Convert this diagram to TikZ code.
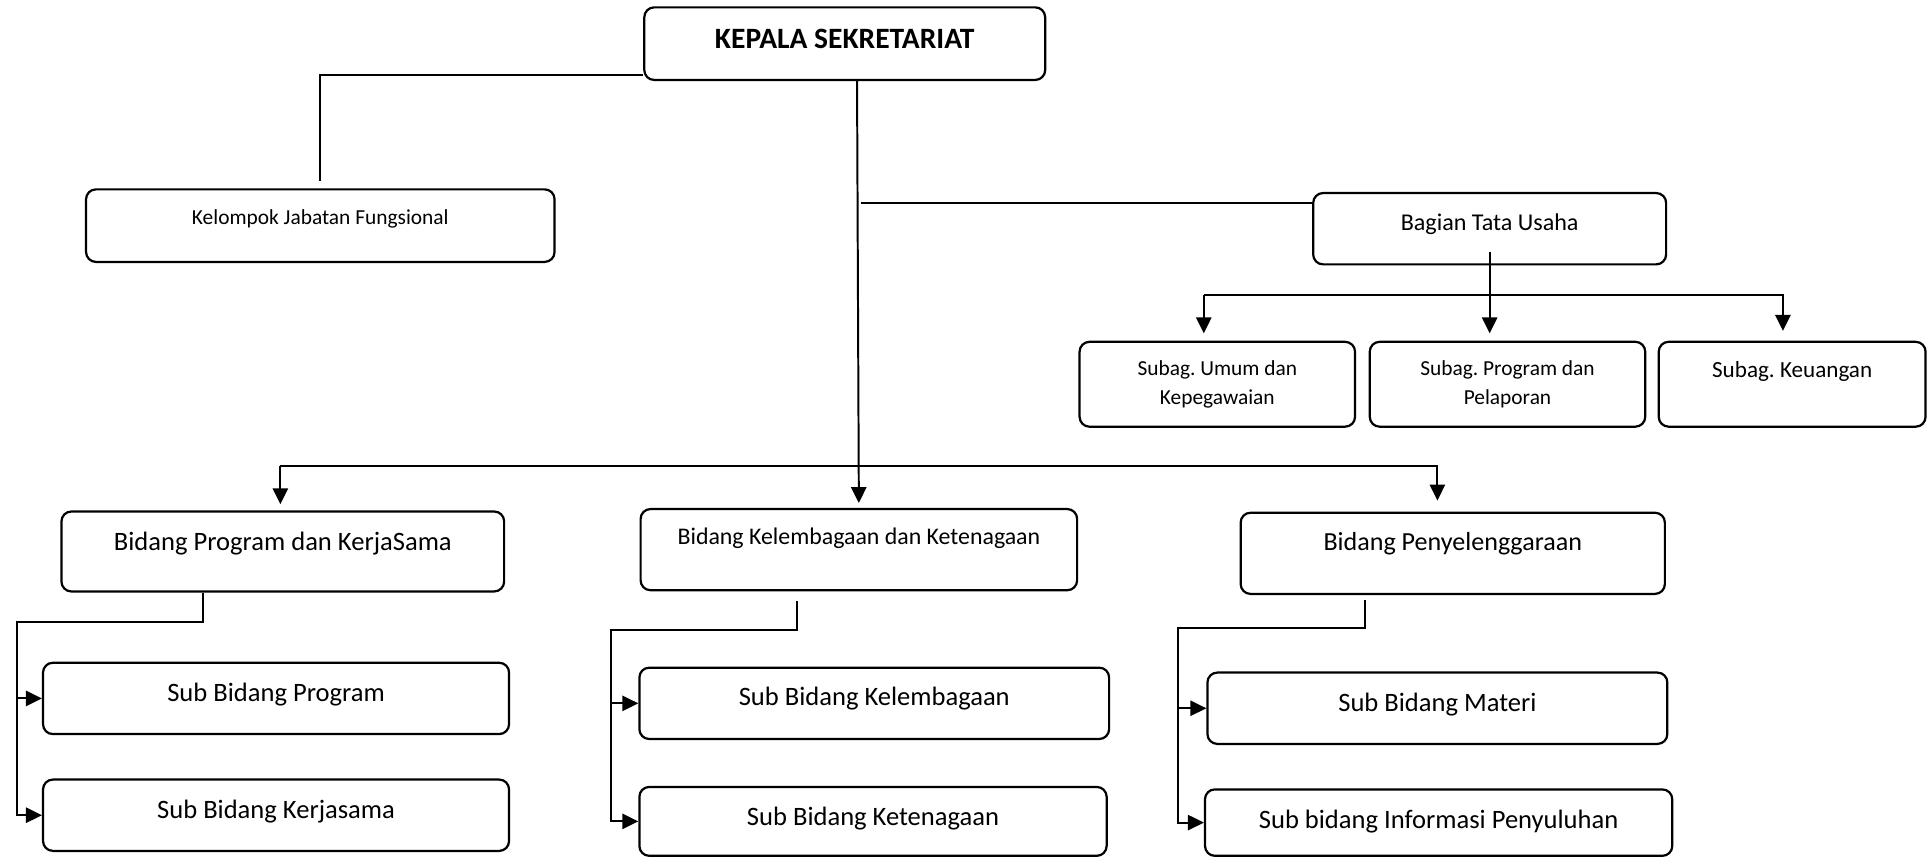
\documentclass[tikz,border=0pt]{standalone}
\usepackage{fontspec}
\setmainfont{Carlito}
\frenchspacing
\usetikzlibrary{arrows.meta}

\begin{document}
\begin{tikzpicture}[x=0.5pt, y=-0.5pt, line width=0.8pt,
  >={Triangle[length=6.5pt,width=6.2pt]},
  box/.style={draw, rounded corners=4pt, line width=0.9pt, inner sep=0pt, align=center},
  lift/.style={text height=7pt, text depth=#1},
  fbold/.style={font=\fontsize{12}{14}\selectfont\bfseries},
  flarge/.style={font=\fontsize{10.8}{13}\selectfont},
  fmid/.style={font=\fontsize{9.7}{12}\selectfont},
  fsmall/.style={font=\fontsize{8.7}{12}\selectfont}]
\useasboundingbox (0,0) rectangle (1568,697);

\node[box, fbold, minimum width=163pt, minimum height=29.5pt, lift=2.8pt] (kepala) at (687,35.5) {KEPALA SEKRETARIAT};
\node[box, fsmall, minimum width=190.5pt, minimum height=29.5pt, lift=8pt] (kelompok) at (260.5,183.5) {Kelompok Jabatan Fungsional};
\node[box, font=\fontsize{9.8}{12}\selectfont, minimum width=143.5pt, minimum height=29pt, lift=5.7pt] (bagian) at (1211.5,186) {Bagian Tata Usaha};

\node[box, fsmall, minimum width=112pt, minimum height=34.5pt] (su) at (990,312.5) {Subag. Umum dan\\Kepegawaian};
\node[box, fsmall, minimum width=112pt, minimum height=34.5pt] (spg) at (1226,312.5) {Subag. Program dan\\Pelaporan};
\node[box, font=\fontsize{9.4}{12}\selectfont, minimum width=108.5pt, minimum height=34.5pt, lift=12.5pt] (sk) at (1457.5,312.5) {Subag. Keuangan};

\node[box, flarge, minimum width=180pt, minimum height=32.5pt, lift=7.6pt] (bpk) at (230,448.5) {Bidang Program dan KerjaSama};
\node[box, fmid, minimum width=177.5pt, minimum height=33pt, lift=10.8pt] (bkel) at (698.5,447) {Bidang Kelembagaan dan Ketenagaan};
\node[box, font=\fontsize{10.6}{13}\selectfont, minimum width=172.5pt, minimum height=33pt, lift=9.2pt] (bpy) at (1181.5,450) {Bidang Penyelenggaraan};

\node[box, flarge, minimum width=189.5pt, minimum height=29pt, lift=4.1pt] (sbp) at (224.5,568) {Sub Bidang Program};
\node[box, flarge, minimum width=189.5pt, minimum height=29pt, lift=4.1pt] (sbk) at (224.5,663) {Sub Bidang Kerjasama};
\node[box, flarge, minimum width=191pt, minimum height=29pt, lift=5.1pt] (sbkel) at (711,572) {Sub Bidang Kelembagaan};
\node[box, flarge, minimum width=190pt, minimum height=28pt, lift=3.6pt] (sbket) at (710,668) {Sub Bidang Ketenagaan};
\node[box, flarge, minimum width=187pt, minimum height=29pt, lift=4.1pt] (sbm) at (1169,576) {Sub Bidang Materi};
\node[box, flarge, minimum width=190pt, minimum height=27pt, lift=2.6pt] (sbi) at (1170,669) {Sub bidang Informasi Penyuluhan};

% kepala
\draw[shorten >=3pt] ([yshift=2.5pt]kepala.south west) -| (kelompok.north);
\draw[->, shorten >=2pt] ([xshift=5pt]kepala.south) -- (bkel.north);
\coordinate (tu) at (700,165);
\draw (tu) -- (tu -| bagian.west);

% tata usaha
\draw[->, shorten >=3pt] ([yshift=5.5pt]bagian.south) -- (bagian.south |- spg.north);
\coordinate (sl) at (979,240);
\coordinate (sr) at (1450,240);
\draw[->, shorten >=3pt] (sl) -- (sl |- su.north);
\draw[->, shorten >=4pt] (sl) -- (sr) -- (sr |- sk.north);

% bidang
\coordinate (bl) at (228,379);
\coordinate (br) at (1169,379);
\draw[->, shorten >=2.5pt] (bl) -- (bl |- bpk.north);
\draw[->, shorten >=4.5pt] (bl) -- (br) -- (br |- bpy.north);

% sub bidang
\coordinate (k1) at (14,506);
\draw[->] ([xshift=-32.5pt]bpk.south) |- (k1) |- (sbp.west);
\draw[->] (k1) |- (sbk.west);
\coordinate (k2) at (497,512);
\draw[->] ([xshift=-25.25pt,yshift=-4pt]bkel.south) |- (k2) |- (sbkel.west);
\draw[->] (k2) |- (sbket.west);
\coordinate (k3) at (958,511);
\draw[->] ([xshift=-35.75pt,yshift=-2pt]bpy.south) |- (k3) |- (sbm.west);
\draw[->] (k3) |- (sbi.west);
\end{tikzpicture}
\end{document}
